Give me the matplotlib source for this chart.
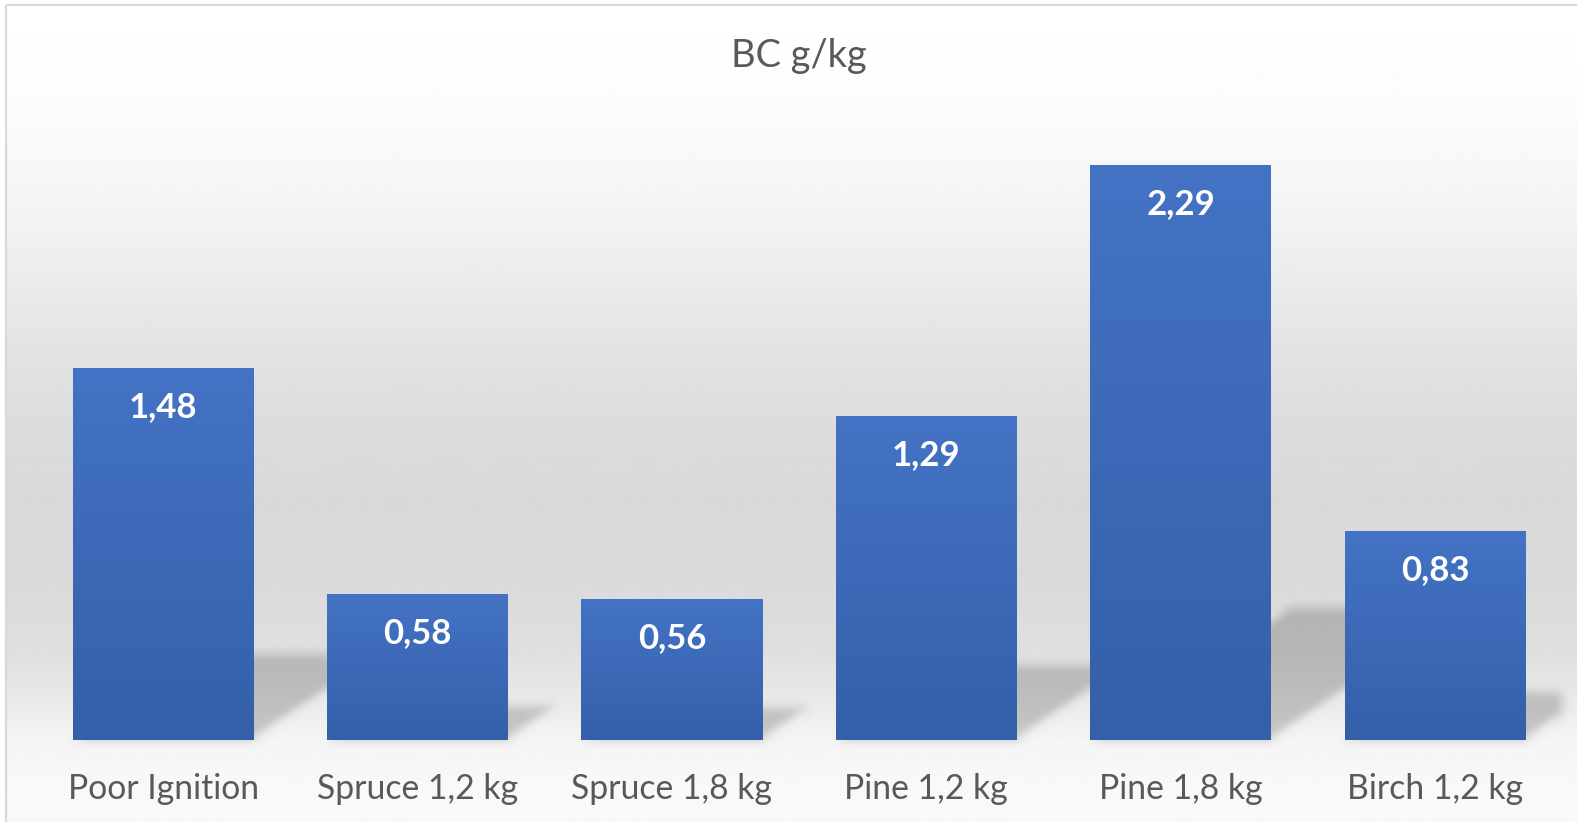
import numpy as np
import matplotlib
matplotlib.use("Agg")
import matplotlib.pyplot as plt
from matplotlib.patches import Polygon
from matplotlib.colors import LinearSegmentedColormap

# ---- data -------------------------------------------------------------
categories = ["Poor Ignition", "Spruce 1,2 kg", "Spruce 1,8 kg",
              "Pine 1,2 kg", "Pine 1,8 kg", "Birch 1,2 kg"]
bc_values = [1.48, 0.58, 0.56, 1.29, 2.29, 0.83]
value_labels = ["1,48", "0,58", "0,56", "1,29", "2,29", "0,83"]
chart_title = "BC g/kg"

# ---- figure geometry ---------------------------------------------------
W, H, DPI = 1577, 822, 100
FONT = ["Lato", "DejaVu Sans"]
TEXT_GREY = "#595959"

fig = plt.figure(figsize=(W / DPI, H / DPI), dpi=DPI)
fig.patch.set_facecolor("white")

# chart-area background: soft vertical grey gradient
bg = fig.add_axes([0, 0, 1, 1], zorder=0)
bg.set_xlim(0, W)
bg.set_ylim(H, 0)
bg.axis("off")
stop_y = [0, 100, 200, 300, 400, 500, 580, 650, 700, 740, 780, 822]
stop_v = [255, 252, 245, 233, 222, 217, 218, 223, 233, 244, 248, 249]
rows = np.arange(5, H) + 0.5
shade = np.interp(rows, stop_y, stop_v) / 255.0
bg.imshow(np.repeat(shade[:, None], 2, axis=1), cmap="gray", vmin=0, vmax=1,
          extent=(6, W, H, 5), aspect="auto", interpolation="bilinear")
border = dict(color="#d9d9d9", lw=1.6, solid_capstyle="butt")
bg.plot([6, 6], [5, H], **border)
bg.plot([6, W], [5, 5], **border)


# ---- blur used for the soft perspective shadows -----------------------
def gaussian_blur(sigma):
    r = int(3 * sigma)
    k = np.exp(-0.5 * (np.arange(-r, r + 1) / sigma) ** 2)
    k /= k.sum()

    def _filter(im, dpi):
        src = np.pad(im, [(r, r), (r, r), (0, 0)])
        n0, n1 = src.shape[:2]
        tmp = np.zeros_like(src)
        p = np.pad(src, [(r, r), (0, 0), (0, 0)])
        for i, w in enumerate(k):
            tmp += w * p[i:i + n0]
        out = np.zeros_like(src)
        p = np.pad(tmp, [(0, 0), (r, r), (0, 0)])
        for i, w in enumerate(k):
            out += w * p[:, i:i + n1]
        return out, -r, -r
    return _filter


# ---- plot area ---------------------------------------------------------
SLOT_PX = 254.4          # horizontal pixels per category
UNIT_PX = 251.0          # vertical pixels per g/kg
BASE_PX = 740.0          # baseline, pixels from the top
Y_TOP = 2.5
ax = fig.add_axes([35.9 / W, (H - BASE_PX) / H,
                   6 * SLOT_PX / W, Y_TOP * UNIT_PX / H], zorder=1)
ax.patch.set_alpha(0)
ax.axis("off")

x = np.arange(len(categories))
bar_w = 181 / SLOT_PX
bars = ax.bar(x, bc_values, width=bar_w, color="none", edgecolor="none", zorder=3)

blur = gaussian_blur(5)
bar_cmap = LinearSegmentedColormap.from_list("bar", ["#4473C5", "#3460A9"])
grad = np.linspace(0, 1, 256)[:, None]

for rect, v in zip(bars, bc_values):
    x0, x1 = rect.get_x(), rect.get_x() + rect.get_width()
    # skewed shadow cast up and to the right
    hs = 0.23 * v
    shift = 1.5 * hs * UNIT_PX / SLOT_PX
    shadow = Polygon([(x0, 0), (x1, 0), (x1 + shift, hs), (x0 + shift, hs)],
                     closed=True, facecolor="black", edgecolor="none",
                     alpha=0.19, zorder=2)
    shadow.set_agg_filter(blur)
    ax.add_patch(shadow)
    # gradient fill of the bar
    ax.imshow(grad, cmap=bar_cmap, vmin=0, vmax=1, aspect="auto",
              extent=(x0, x1, 0, rect.get_height()), interpolation="bilinear",
              zorder=3)

for xi, v, lbl in zip(x, bc_values, value_labels):
    ax.annotate(lbl, xy=(xi, v), xytext=(0, -48.5), textcoords="offset pixels",
                ha="center", va="baseline", color="white", fontsize=25,
                fontweight="bold", family=FONT, zorder=5, annotation_clip=False)

for xi, cat in zip(x, categories):
    ax.annotate(cat, xy=(xi, 0), xytext=(0, -59), textcoords="offset pixels",
                ha="center", va="baseline", color=TEXT_GREY, fontsize=24.3,
                family=FONT, zorder=5, annotation_clip=False)

ax.set_xlim(-0.5, len(categories) - 0.5)
ax.set_ylim(0, Y_TOP)

fig.text(799 / W, 1 - 66.7 / H, chart_title, ha="center", va="baseline",
         color=TEXT_GREY, fontsize=27.4, family=FONT)

fig.savefig("out.png", dpi=DPI, facecolor="white")
